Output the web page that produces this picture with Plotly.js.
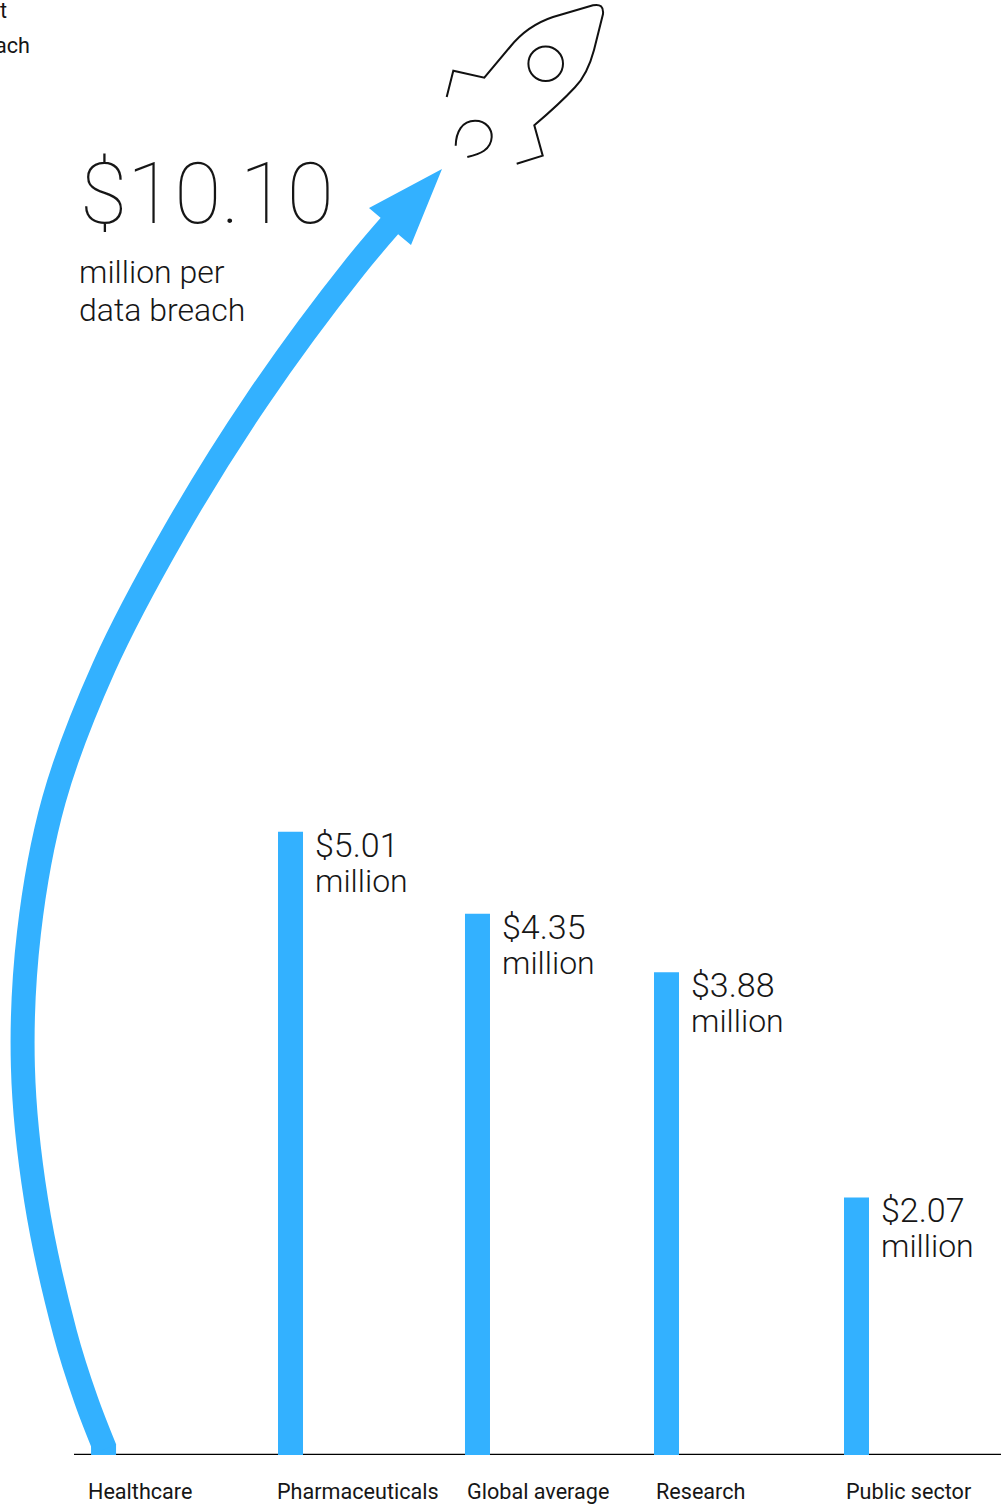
<!DOCTYPE html>
<html>
<head>
<meta charset="utf-8">
<script src="https://cdn.plot.ly/plotly-3.0.1.min.js"></script>
<style>html,body{margin:0;padding:0;background:#fff}#chart{width:1003px;height:1505px}</style>
</head>
<body>
<div id="chart"></div>
<script>
// Industry cost per data breach, in millions of US dollars
const categories = ['Healthcare', 'Pharmaceuticals', 'Global average', 'Research', 'Public sector'];
const values = [10.10, 5.01, 4.35, 3.88, 2.07];
const valueLabels = ['$10.10', '$5.01', '$4.35', '$3.88', '$2.07'];
const unitLabel = 'million';
const headlineUnit = ['million per', 'data breach'];
const clippedHeading = ['t', 'ach'];

// Healthcare climbs as a curved arrow: centre line in axis units, ending at its value
const arrowX = [0.011, -0.090, -0.202, -0.356, -0.426, -0.394, -0.261, 0.005, 0.378, 0.819, 1.340, 1.654];
const arrowY = [0.048, 0.442, 0.981, 2.050, 3.119, 4.196, 5.265, 6.334, 7.412, 8.481, 9.550, values[0]];
const stubX = [0.003, 0.003];
const stubY = [0, 0.088];
const headX = [1.8032, 1.4149, 1.4840, 1.5745, 1.6383, 1.8032];
const headY = [10.338, 10.024, 9.936, 9.807, 9.727, 10.338];

const BLUE = '#33b1ff';
const INK = '#161616';
const W = 1003, H = 1505;
const M = {l: 0, r: 2, t: 0, b: 50};
const SLOT = 188, SLOT0 = 103, PX_PER_UNIT = 124.4;
const plotW = W - M.l - M.r, plotH = H - M.t - M.b;
const slots = categories.map((_, i) => i);
const barWidth = 25 / SLOT;
const barNudge = [0, -0.0691, -0.0745, -0.0691, -0.0585];

// Page pixels to paper fractions, for the axis rule and the rocket illustration
const px = x => ((x - M.l) / plotW).toFixed(5);
const py = y => ((M.t + plotH - y) / plotH).toFixed(5);
const rocketPath = (cmds) => cmds.map(c => c[0] + c.slice(1).map((v, i) => i % 2 ? py(v) : px(v)).join(',')).join(' ');

const rocketBody = rocketPath([
  ['M', 446.7, 97], ['L', 453.3, 70.7], ['L', 484.3, 77.7], ['L', 510, 47],
  ['C', 522, 32, 535, 23, 553, 17], ['L', 593, 5.3], ['Q', 604, 3, 603, 14], ['L', 594, 50],
  ['C', 590, 65, 585, 77, 575, 87.3], ['C', 566, 97, 550, 112, 534.3, 125.3],
  ['L', 542.7, 155.7], ['L', 516.7, 163.7]
]);
const rocketFlame = rocketPath([
  ['M', 455.7, 145.7], ['C', 456, 132, 462, 120.7, 475, 120.7],
  ['C', 487, 120.7, 492, 130, 491.7, 137], ['C', 491, 150, 480, 154, 467.3, 157]
]);
const rocketLine = {color: '#111', width: 2};

const thinFont = {family: 'Roboto, "Open Sans", sans-serif', color: INK, weight: 300};
const note = (text, x, y, size, opts) => Object.assign({
  text, x, y, xref: 'paper', yref: 'paper', xanchor: 'left', yanchor: 'middle',
  showarrow: false, borderpad: 0, borderwidth: 0,
  font: Object.assign({}, thinFont, {size})
}, opts || {});
const labelFont = {family: 'Roboto, sans-serif', color: INK, size: 21.6, weight: 400};

const annotations = [];
// Category names sit under the axis, left-aligned to their marks
const nameLeft = [88, 277, 467, 656, 846];
categories.forEach((c, i) => annotations.push(note(c, px(nameLeft[i]), py(1491.6), 21.6, {font: labelFont})));
// Value and unit beside each bar, placed from the bar's own height
slots.slice(1).forEach(i => {
  const common = {x: slots[i] + barNudge[i], y: values[i], xref: 'x', yref: 'y', xanchor: 'left', yanchor: 'top',
    xshift: 37, showarrow: false, borderpad: 0, borderwidth: 0};
  annotations.push(Object.assign({}, common, {text: valueLabels[i], yshift: 7, font: Object.assign({}, thinFont, {size: 34})}));
  annotations.push(Object.assign({}, common, {text: unitLabel, yshift: -30, font: Object.assign({}, thinFont, {size: 32})}));
});
// Headline figure for the climbing arrow
annotations.push(note(valueLabels[0], px(80), py(193), 86,
  {font: {family: 'Roboto, sans-serif', color: INK, size: 86, weight: 100}}));
annotations.push(note(headlineUnit[0], px(79), py(272), 32));
annotations.push(note(headlineUnit[1], px(79), py(310), 32));
annotations.push(note(clippedHeading[0], px(7), py(10.5), 21.6, {xanchor: 'right', font: labelFont}));
annotations.push(note(clippedHeading[1], px(30), py(45.6), 21.6, {xanchor: 'right', font: labelFont}));

const traces = [
  {
    type: 'bar', name: 'Cost per breach',
    x: slots.slice(1), y: values.slice(1),
    width: barWidth, offset: barNudge.slice(1),
    marker: {color: BLUE, line: {width: 0}}, hoverinfo: 'skip'
  },
  {
    type: 'scatter', mode: 'lines', name: categories[0] + ' foot', x: stubX, y: stubY,
    line: {color: BLUE, width: 25}, hoverinfo: 'skip'
  },
  {
    type: 'scatter', mode: 'lines', name: categories[0], x: arrowX, y: arrowY,
    line: {color: BLUE, width: 24, shape: 'spline', smoothing: 1, simplify: false},
    hoverinfo: 'skip'
  },
  {
    type: 'scatter', mode: 'lines', name: categories[0] + ' arrowhead', x: headX, y: headY,
    fill: 'toself', fillcolor: BLUE, line: {color: BLUE, width: 0},
    hoverinfo: 'skip'
  }
];

const layout = {
  width: W, height: H, margin: M, showlegend: false,
  paper_bgcolor: '#fff', plot_bgcolor: '#fff',
  xaxis: {
    range: [(M.l - SLOT0) / SLOT, (W - M.r - SLOT0) / SLOT], fixedrange: true,
    showgrid: false, zeroline: false, showticklabels: false, ticks: '', showline: false
  },
  yaxis: {range: [0, plotH / PX_PER_UNIT], visible: false, fixedrange: true},
  annotations,
  shapes: [
    {type: 'line', xref: 'paper', yref: 'paper', layer: 'below', x0: px(74), x1: px(1001), y0: py(1454.4), y1: py(1454.4), line: {color: '#000', width: 1.3}},
    {type: 'path', xref: 'paper', yref: 'paper', path: rocketBody, line: rocketLine},
    {type: 'path', xref: 'paper', yref: 'paper', path: rocketFlame, line: rocketLine},
    {type: 'circle', xref: 'paper', yref: 'paper', x0: px(528.4), x1: px(563), y0: py(81), y1: py(46.4), line: rocketLine}
  ]
};

Plotly.newPlot('chart', traces, layout, {displayModeBar: false, staticPlot: true});
</script>
</body>
</html>
